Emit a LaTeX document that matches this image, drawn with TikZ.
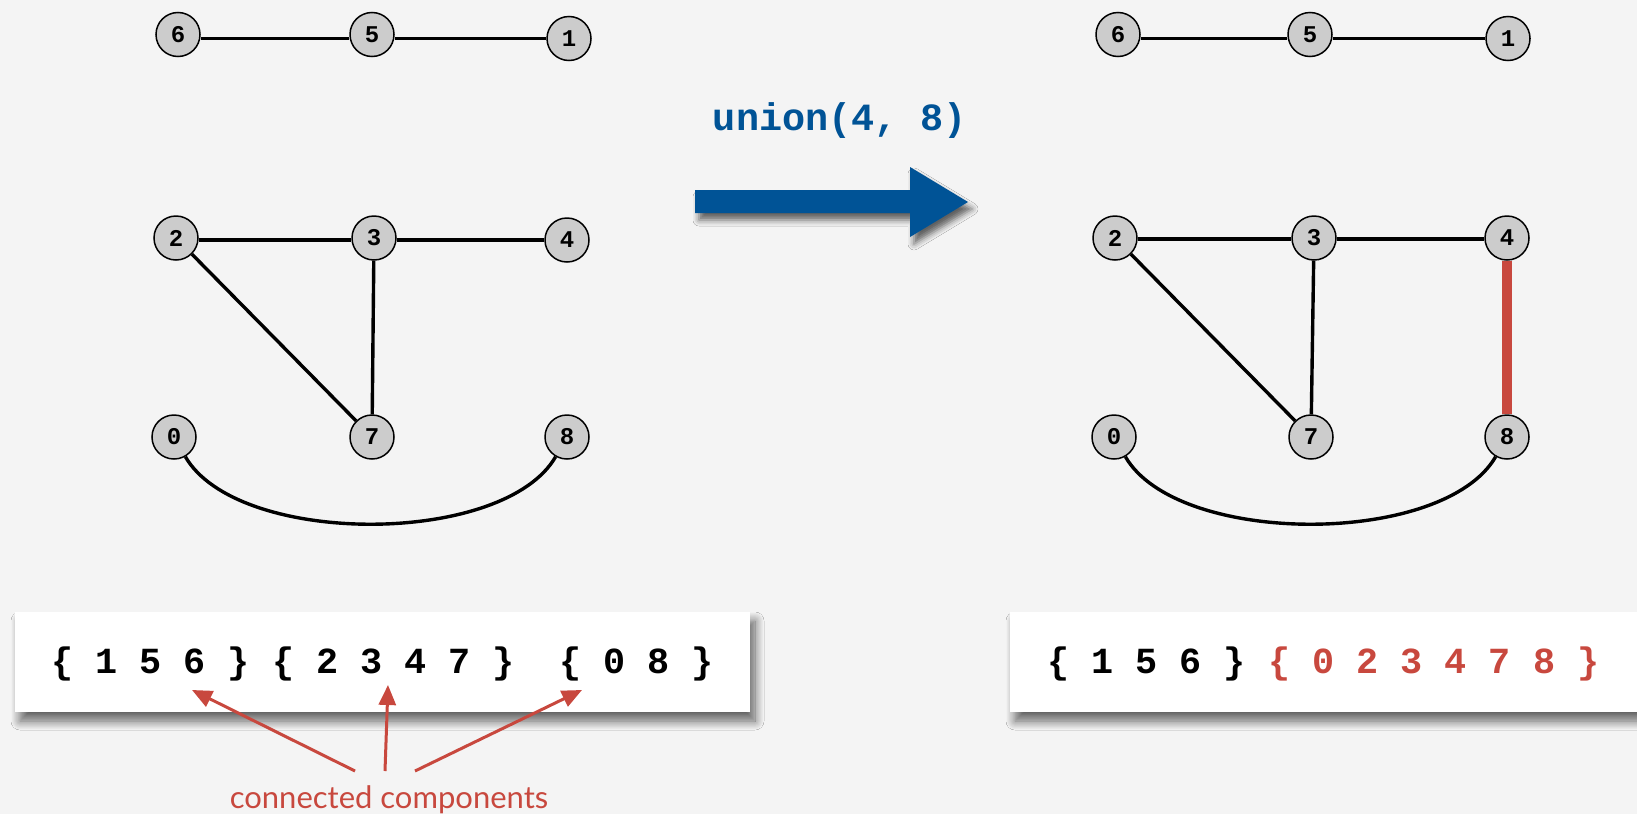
\documentclass[tikz,border=0pt]{standalone}
\usepackage{fontspec}
\setmainfont{Liberation Sans}
\setmonofont{Liberation Mono}
\newfontfamily\labelfont{Lato}
\usetikzlibrary{shadows.blur, arrows.meta}
\definecolor{bgcol}{RGB}{244,244,244}
\definecolor{nodegray}{RGB}{204,204,204}
\definecolor{myred}{RGB}{200,72,62}
\definecolor{myblue}{RGB}{0,83,150}
\tikzset{
 vert/.style={circle, draw=black, line width=1.5pt, fill=nodegray, minimum size=44pt, inner sep=0pt, font=\ttfamily\bfseries\fontsize{24}{24}\selectfont},
 link/.style={line width=3.4pt, draw=black},
 newlink/.style={line width=10pt, draw=myred},
 setbox/.style={fill=white, draw=none, inner sep=0pt, blur shadow={shadow xshift=5pt, shadow yshift=-9pt, shadow blur radius=9pt, shadow opacity=60, shadow blur steps=12}},
 settext/.style={font=\ttfamily\bfseries\fontsize{36.8}{40}\selectfont, anchor=base west, inner sep=0pt},
 redarrow/.style={draw=myred, fill=myred, line width=3pt, -{Triangle[length=20pt,width=17pt]}},
}
\begin{document}
\begin{tikzpicture}[x=1pt,y=-1pt]
\useasboundingbox (0,0) rectangle (1637,814);
\fill[bgcol] (0,0) rectangle (1637,814);

% left graph
\node[vert] (L6) at (178,34.5) {6};
\node[vert] (L5) at (372,34.5) {5};
\node[vert] (L1) at (569,38.5) {1};
\node[vert] (L2) at (176,238) {2};
\node[vert] (L3) at (374,238) {3};
\node[vert] (L4) at (567,240) {4};
\node[vert] (L0) at (174,437) {0};
\node[vert] (L7) at (372,437) {7};
\node[vert] (L8) at (567,437) {8};
% right graph
\node[vert] (R6) at (1118,34.5) {6};
\node[vert] (R5) at (1310,34.5) {5};
\node[vert] (R1) at (1508,38.5) {1};
\node[vert] (R2) at (1115,238) {2};
\node[vert] (R3) at (1314,238) {3};
\node[vert] (R4) at (1507,238) {4};
\node[vert] (R0) at (1114,437) {0};
\node[vert] (R7) at (1311,437) {7};
\node[vert] (R8) at (1507,437) {8};

\draw[link] ([yshift=-4pt]L6.east) -- ([yshift=-4pt]L5.west);
\draw[link] ([yshift=-4pt]L5.east) -- (L1);
\draw[link] ([yshift=-2pt]L2.east) -- ([yshift=-2pt]L3.west);
\draw[link] ([yshift=-2pt]L3.east) -- (L4);
\draw[link] (L2) -- (L7);
\draw[link] (L3) -- (L7);
\draw[link] (L0) to[out=-60,in=-120,looseness=0.72] (L8);
\draw[link] ([yshift=-4pt]R6.east) -- ([yshift=-4pt]R5.west);
\draw[link] ([yshift=-4pt]R5.east) -- (R1);
\draw[link] ([yshift=-1pt]R2.east) -- ([yshift=-1pt]R3.west);
\draw[link] ([yshift=-1pt]R3.east) -- ([yshift=-1pt]R4.west);
\draw[link] (R2) -- (R7);
\draw[link] (R3) -- (R7);
\draw[link] (R0) to[out=-60,in=-120,looseness=0.72] (R8);
\draw[newlink] (R4) -- (R8);

% operation
\node[font=\ttfamily\bfseries\fontsize{38.5}{40}\selectfont, text=myblue, anchor=base, inner sep=0pt] (op) at (840,130) {union(4, 8)};
\fill[myblue, blur shadow={shadow xshift=4pt, shadow yshift=-7pt, shadow blur radius=6pt, shadow opacity=60}]
 (695,190) -- (910,190) -- (910,167) -- (968,202) -- (910,237) -- (910,213) -- (695,213) -- cycle;

% set boxes
\node[setbox, minimum width=735pt, minimum height=100pt] (boxL) at (382.5,662) {};
\node[settext] (txtL) at (51,673) {\{ 1 5 6 \} \{ 2 3 4 7 \}\ \ \{ 0 8 \}};
\node[setbox, minimum width=660pt, minimum height=100pt] (boxR) at (1340,662) {};
\node[settext] (txtR) at (1047,673) {\{ 1 5 6 \} \textcolor{myred}{\{ 0 2 3 4 7 8 \}}};

% label and arrows
\node[font=\labelfont\fontsize{31}{32}\selectfont, text=myred, anchor=base, inner sep=0pt] (lbl) at (389,808) {connected components};
\coordinate (t1) at (192,690);
\coordinate (t2) at (388,685);
\coordinate (t3) at (582,690);
\coordinate (s1) at (355,771);
\coordinate (s2) at (385,771);
\coordinate (s3) at (415,771);
\draw[redarrow] (s1) -- (t1);
\draw[redarrow] (s2) -- (t2);
\draw[redarrow] (s3) -- (t3);
\end{tikzpicture}
\end{document}
